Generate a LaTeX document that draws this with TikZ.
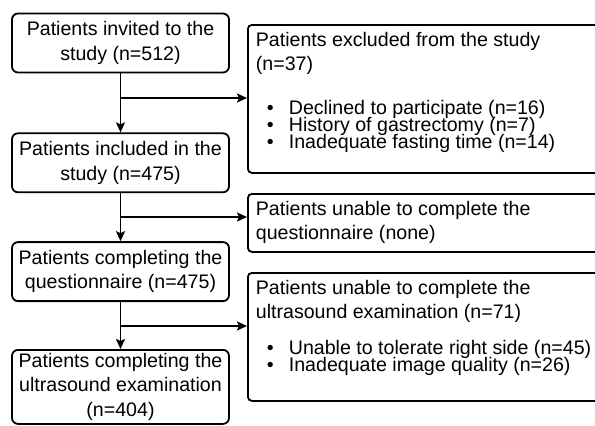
\documentclass[tikz,border=0pt]{standalone}
\usepackage{fontspec}
\setmainfont{Liberation Sans}
\usetikzlibrary{arrows.meta, positioning}

\newcommand{\bul}[1]{\hspace*{11pt}\makebox[22pt][l]{\textbullet}#1}

\begin{document}
\begin{tikzpicture}[x=1pt, y=-1pt, line width=1.8pt,
    every node/.style={font=\fontsize{19.6}{24.5}\selectfont},
    mainbox/.style={draw, rounded corners=6pt, align=center, minimum width=217pt, minimum height=59pt, inner sep=0pt},
    sidebox/.style={draw, rounded corners=4pt, anchor=north west, inner xsep=8pt, inner ysep=7pt},
    flow/.style={-{Stealth[length=10pt, width=9pt, inset=2pt]}}]
    \clip (0,0) rectangle (595,426);

    % Main flow
    \node[mainbox] (invited) at (120.5,43) {Patients invited to the\\study (n=512)};
    \node[mainbox, below=59pt of invited] (included) {Patients included in the\\study (n=475)};
    \node[mainbox, below=48pt of included] (quest) {Patients completing the\\questionnaire (n=475)};
    \node[mainbox, minimum height=74pt, below=47pt of quest] (ultra) {Patients completing the\\ultrasound examination\\(n=404)};

    % Exclusions
    \node[sidebox] (excluded) at (247,24) {\parbox[c][134pt][t]{345pt}{\fontsize{19.6}{24}\selectfont\raggedright
        Patients excluded from the study\\(n=37)\\[20pt]
        \bul{Declined to participate (n=16)}\\[-7pt]
        \bul{History of gastrectomy (n=7)}\\[-7pt]
        \bul{Inadequate fasting time (n=14)}}};
    \node[sidebox] (noquest) at (247,193) {\parbox[c][44pt][t]{345pt}{\fontsize{19.6}{24}\selectfont\raggedright
        Patients unable to complete the\\questionnaire (none)}};
    \node[sidebox] (noultra) at (247,272) {\parbox[c][114pt][t]{345pt}{\fontsize{19.6}{24}\selectfont\raggedright
        Patients unable to complete the\\ultrasound examination (n=71)\\[12pt]
        \bul{Unable to tolerate right side (n=45)}\\[-7pt]
        \bul{Inadequate image quality (n=26)}}};

    % Arrows
    \coordinate (j1) at (invited.south |- 0,98);
    \coordinate (j2) at (included.south |- 0,217);
    \coordinate (j3) at (quest.south |- 0,326);
    \draw[flow] (invited) -- (included);
    \draw[flow] (included) -- (quest);
    \draw[flow] (quest) -- (ultra);
    \draw[flow] (j1) -- (j1 -| excluded.west);
    \draw[flow] (j2) -- (j2 -| noquest.west);
    \draw[flow] (j3) -- (j3 -| noultra.west);
\end{tikzpicture}
\end{document}
